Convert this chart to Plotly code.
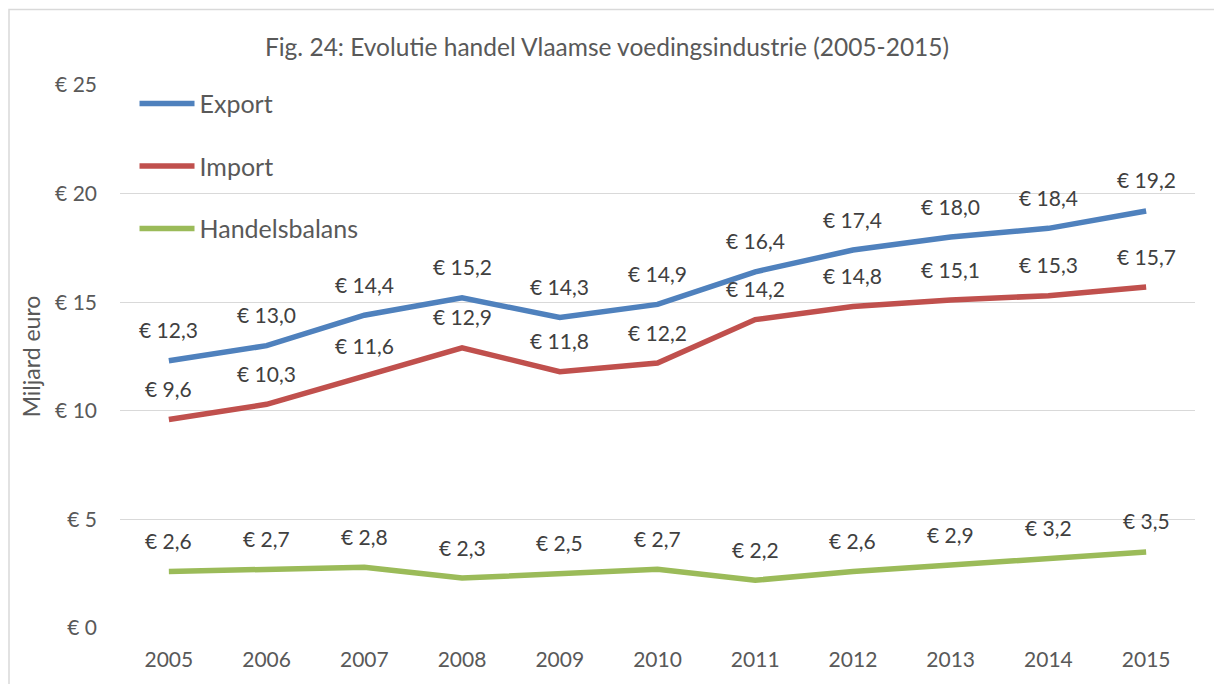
import plotly.graph_objects as go

years = ["2005", "2006", "2007", "2008", "2009", "2010", "2011", "2012", "2013", "2014", "2015"]
export = [12.3, 13.0, 14.4, 15.2, 14.3, 14.9, 16.4, 17.4, 18.0, 18.4, 19.2]
imp = [9.6, 10.3, 11.6, 12.9, 11.8, 12.2, 14.2, 14.8, 15.1, 15.3, 15.7]
balans = [2.6, 2.7, 2.8, 2.3, 2.5, 2.7, 2.2, 2.6, 2.9, 3.2, 3.5]
series_names = ["Export", "Import", "Handelsbalans"]
colors = ["#4F81BD", "#C0504D", "#9BBB59"]
y_ticks = [0, 5, 10, 15, 20, 25]
title = "Fig. 24: Evolutie handel Vlaamse voedingsindustrie (2005-2015)"

FONT = "Lato"
W, H = 1214, 684
L, R, T, B = 120, 19, 85, 56

fig = go.Figure()
annotations = []
for name, vals, col in zip(series_names, [export, imp, balans], colors):
    fig.add_trace(go.Scatter(
        x=years, y=vals, name=name, mode="lines", legendgroup=name,
        line=dict(color=col, width=5.5),
    ))
    for i, yv in enumerate(vals):
        annotations.append(go.layout.Annotation(
            x=i, y=yv, xref="x", yref="y", showarrow=False, yshift=31,
            text="€ " + f"{yv:.1f}".replace(".", ","),
            font=dict(family=FONT, size=21, color="#404040"),
        ))

pw = W - L - R
ph = H - T - B
bx = (9 - L) / pw
by = (H - B - 9.5) / ph

fig.update_layout(
    width=W, height=H,
    margin=dict(l=L, r=R, t=T, b=B, pad=0),
    paper_bgcolor="white", plot_bgcolor="white",
    font=dict(family=FONT, color="#595959", size=20),
    title=dict(text=title, x=0.5, xref="container", xanchor="center", y=1 - 47 / H, yanchor="middle",
               font=dict(family=FONT, size=24.5, color="#595959")),
    showlegend=True,
    legend=dict(x=0.0135, y=1.008, xanchor="left", yanchor="top",
                bgcolor="rgba(0,0,0,0)", tracegroupgap=27, traceorder="grouped",
                font=dict(family=FONT, size=25, color="#595959"), itemwidth=55),
    xaxis=dict(type="category", range=[-0.5, 10.5], showgrid=False, showline=False,
               ticks="", tickfont=dict(family=FONT, size=21, color="#595959"),
               ticklabelstandoff=17, zeroline=False),
    yaxis=dict(range=[0, 25], tickvals=y_ticks, ticktext=["€ " + str(v) for v in y_ticks],
               showgrid=True, gridcolor="#D9D9D9", gridwidth=1, zeroline=False,
               showline=False, ticks="", ticklabelstandoff=22,
               tickfont=dict(family=FONT, size=21, color="#595959"),
               title=dict(text="Miljard euro", standoff=8,
                          font=dict(family=FONT, size=23, color="#595959"))),
    shapes=[dict(type="rect", xref="paper", yref="paper", x0=bx, x1=1.5, y0=-0.5, y1=by,
                 line=dict(color="#D9D9D9", width=1.5), fillcolor="rgba(0,0,0,0)", layer="below")],
)
for a in annotations:
    fig.add_annotation(a)

fig.write_html("out.html", config={"displayModeBar": False},
               post_script="document.body.style.margin='0';document.body.style.overflow='hidden';")
